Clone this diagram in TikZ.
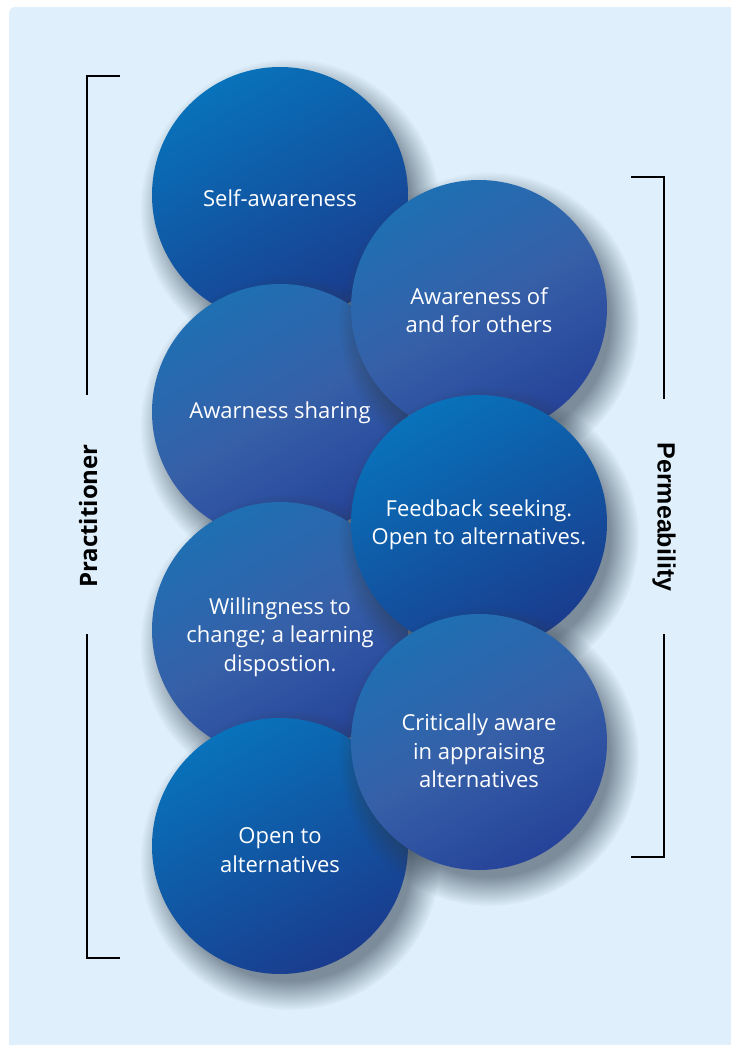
\documentclass[tikz,border=0pt]{standalone}
\usepackage{fontspec}
\setmainfont{Open Sans}
\newfontfamily\arialbold{Liberation Sans}
\usetikzlibrary{fadings}
\definecolor{bgblue}{HTML}{DFF0FC}
\definecolor{deeptop}{HTML}{0872BA}
\definecolor{deepbot}{HTML}{1A3C8E}
\definecolor{softtop}{HTML}{1F6FB3}
\definecolor{softmid}{HTML}{3660A8}
\definecolor{softbot}{HTML}{264399}
\definecolor{shadowgrey}{HTML}{2B3A4A}
\begin{document}
\begin{tikzpicture}[x=1pt,y=-1pt]
	\tikzstyle{bubble} = [circle,minimum size=256pt,inner sep=0pt]
	\tikzstyle{bubbleshadow} = [fill=shadowgrey,opacity=0.55,path fading=circle with fuzzy edge 20 percent]
	\tikzstyle{bubbletext} = [text=white,align=center,font=\fontsize{22}{28.5}\selectfont]
	\tikzstyle{deep} = [top color=deeptop,bottom color=deepbot,shading angle=30]
	\tikzstyle{soft} = [top color=softtop,bottom color=softbot,middle color=softmid,shading angle=30]
	\tikzstyle{bracket} = [line width=1.8pt]
	\tikzstyle{side} = [font=\fontsize{24}{28}\selectfont\bfseries]
	% background
	\useasboundingbox (0,0) rectangle (731,1045);
	\fill[bgblue,rounded corners=6pt] (9,7) rectangle (760,1070);
	% left column
	\foreach \i/\y/\t/\s/\txt in {1/195/198/deep/{Self-awareness},2/412/413/soft/{Awarness sharing},3/630/637/soft/{Willingness to\\change; a learning\\dispostion.},4/846/850/deep/{Open to\\alternatives}}{
		\fill[bubbleshadow] (290,\y+14) circle (150);
		\node[bubble,\s] (left\i) at (280,\y) {};
		\node[bubbletext] (lefttext\i) at (280,\t) {\txt};
	}
	% right column
	\foreach \i/\y/\t/\s/\txt in {1/308/310/soft/{Awareness of\\and for others},2/523/525/deep/{Feedback seeking.\\Open to alternatives.},3/742/751/soft/{Critically aware\\in appraising\\alternatives}}{
		\fill[bubbleshadow] (489,\y+14) circle (150);
		\node[bubble,\s] (right\i) at (479,\y) {};
		\node[bubbletext] (righttext\i) at (479,\t) {\txt};
	}
	% brackets
	\draw[bracket] (120,76) -- (87,76) -- (87,395);
	\draw[bracket] (87,634) -- (87,958) -- (120,958);
	\draw[bracket] (631,177) -- (664,177) -- (664,399);
	\draw[bracket] (664,634) -- (664,857) -- (631,857);
	% side labels
	\node[side,rotate=90] (practitioner) at (88,516) {Practitioner};
	\node[side,rotate=-90,font=\fontsize{25}{28}\selectfont\arialbold\bfseries] (permeability) at (664,517) {Permeability};
\end{tikzpicture}
\end{document}
